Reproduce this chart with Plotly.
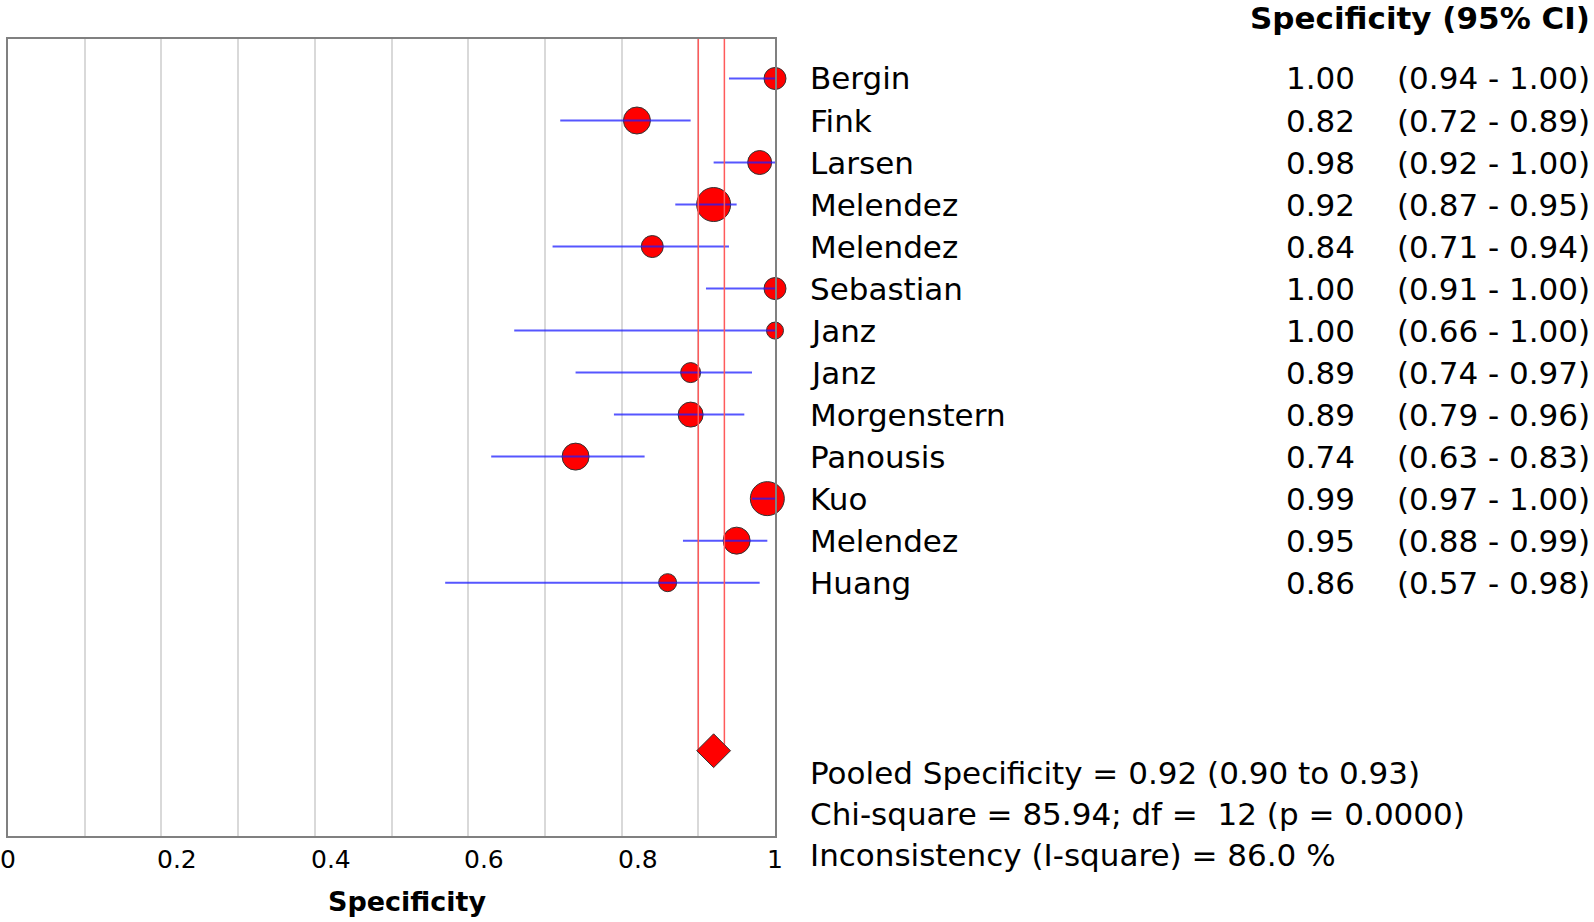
import plotly.graph_objects as go

# study data (specificity with 95% CI)
studies = ["Bergin", "Fink", "Larsen", "Melendez", "Melendez", "Sebastian", "Janz",
           "Janz", "Morgenstern", "Panousis", "Kuo", "Melendez", "Huang"]
spec = [1.00, 0.82, 0.98, 0.92, 0.84, 1.00, 1.00, 0.89, 0.89, 0.74, 0.99, 0.95, 0.86]
ci_low = [0.94, 0.72, 0.92, 0.87, 0.71, 0.91, 0.66, 0.74, 0.79, 0.63, 0.97, 0.88, 0.57]
ci_high = [1.00, 0.89, 1.00, 0.95, 0.94, 1.00, 1.00, 0.97, 0.96, 0.83, 1.00, 0.99, 0.98]
weights = [22, 27, 24, 34, 22, 22, 17, 20, 25, 27, 34, 27, 18]  # marker size ~ study weight

pooled = 0.92
pooled_low = 0.90
pooled_high = 0.934
pooled_row = 16

tick_vals = [0, 0.2, 0.4, 0.6, 0.8, 1]
tick_labels = ["0", "0.2", "0.4", "0.6", "0.8", "1"]

stats_lines = [
    "Pooled Specificity = 0.92 (0.90 to 0.93)",
    "Chi-square = 85.94; df = \u00a012 (p = 0.0000)",
    "Inconsistency (I-square) = 86.0 %",
]

W, H = 1594, 922
L, R, T, B = 8, 775, 39, 836
FONT = "DejaVu Sans"


def px_x(px):
    return (px - L) / (R - L)


def px_y(py):
    return (B - py) / (B - T)


rows = list(range(len(studies)))
fig = go.Figure()

# study points
fig.add_trace(go.Scatter(
    x=spec, y=rows, mode="markers",
    marker=dict(size=weights, color="#ff0000", opacity=1,
                line=dict(color="#333333", width=1)),
    hoverinfo="skip", cliponaxis=False,
))

# confidence intervals (drawn over the points)
for lo, hi, r in zip(ci_low, ci_high, rows):
    fig.add_trace(go.Scatter(
        x=[lo, hi], y=[r, r], mode="lines",
        line=dict(color="rgba(30,30,255,0.75)", width=2),
        hoverinfo="skip",
    ))

# pooled CI vertical lines
for v in [pooled_low, pooled_high]:
    fig.add_trace(go.Scatter(
        x=[v, v], y=[-1, pooled_row], mode="lines",
        line=dict(color="#ff5a5a", width=1.5), hoverinfo="skip",
    ))

# pooled diamond
fig.add_trace(go.Scatter(
    x=[pooled], y=[pooled_row], mode="markers",
    marker=dict(symbol="diamond", size=26, color="#ff0000", opacity=1,
                line=dict(color="#333333", width=1)),
    hoverinfo="skip",
))

ann = []
for name, s, lo, hi, r in zip(studies, spec, ci_low, ci_high, rows):
    ann.append(dict(x=px_x(808), xref="paper", y=r, yref="y", text=name,
                    xanchor="left", yanchor="middle", showarrow=False,
                    font=dict(family=FONT, size=31, color="black")))
    ann.append(dict(x=px_x(1357), xref="paper", y=r, yref="y", text=f"{s:.2f}",
                    xanchor="right", yanchor="middle", showarrow=False,
                    font=dict(family=FONT, size=31, color="black")))
    ann.append(dict(x=px_x(1592), xref="paper", y=r, yref="y",
                    text=f"({lo:.2f} - {hi:.2f})",
                    xanchor="right", yanchor="middle", showarrow=False,
                    font=dict(family=FONT, size=31, color="black")))

ann.append(dict(x=px_x(1592), xref="paper", y=px_y(18), yref="paper",
                text="<b>Specificity (95% CI)</b>", xanchor="right", yanchor="middle",
                showarrow=False, font=dict(family=FONT, size=31, color="black")))

for i, line in enumerate(stats_lines):
    ann.append(dict(x=px_x(808), xref="paper", y=px_y(773 + 41 * i), yref="paper",
                    text=line, xanchor="left", yanchor="middle", showarrow=False,
                    font=dict(family=FONT, size=31, color="black")))

# x tick labels (middle ones sit a bit right of their ticks)
for v, lab in zip(tick_vals, tick_labels):
    shift = 16 if 0 < v < 1 else 0
    ann.append(dict(x=v, xref="x", y=px_y(859), yref="paper", text=lab,
                    xanchor="center", yanchor="middle", xshift=shift, showarrow=False,
                    font=dict(family=FONT, size=25, color="black")))

ann.append(dict(x=px_x(407), xref="paper", y=px_y(901), yref="paper",
                text="<b>Specificity</b>", xanchor="center", yanchor="middle",
                showarrow=False, font=dict(family=FONT, size=27, color="black")))

fig.update_layout(
    width=W, height=H,
    margin=dict(l=L, r=W - R, t=T, b=H - B),
    plot_bgcolor="white", paper_bgcolor="white",
    showlegend=False,
    annotations=ann,
    xaxis=dict(range=[0, 1], dtick=0.1, showgrid=True, gridcolor="#d9d9d9", gridwidth=1.5,
               showticklabels=False, zeroline=False, showline=True, mirror=True,
               linecolor="#808080", linewidth=2, ticks=""),
    yaxis=dict(range=[18.03, -0.94], showgrid=False, showticklabels=False,
               zeroline=False, showline=True, mirror=True,
               linecolor="#808080", linewidth=2, ticks=""),
)

# drop the page's default body margin so the figure fills the window exactly
fig.write_html("out.html", config={"displayModeBar": False},
               post_script="document.body.style.margin='0';")
